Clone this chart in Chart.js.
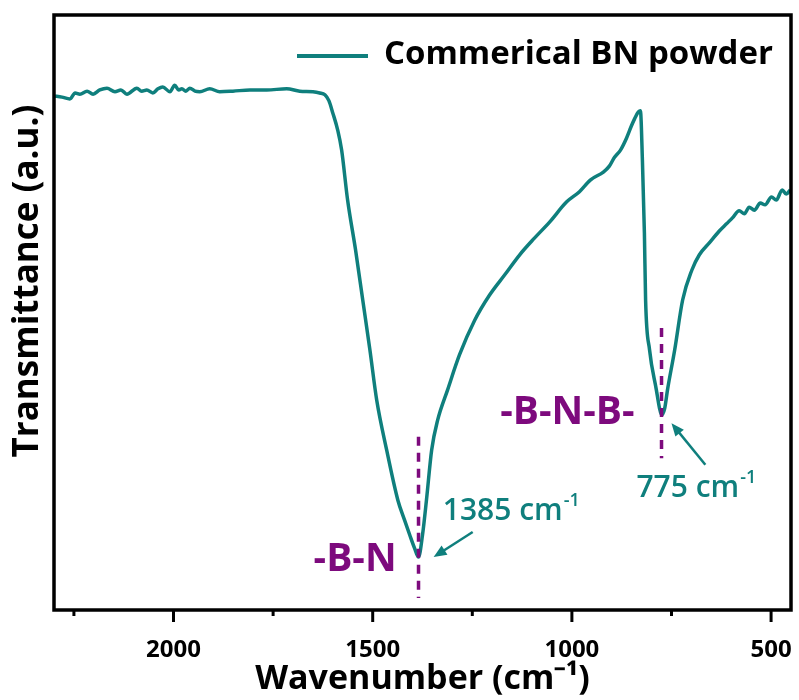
<!DOCTYPE html>
<html>
<head>
<meta charset="utf-8">
<script src="https://cdn.jsdelivr.net/npm/chart.js@4.4.1/dist/chart.umd.min.js"></script>
<style>
  body { margin: 0; background: #fff; }
  #wrap { width: 799px; height: 700px; }
</style>
</head>
<body>
<div id="wrap"><canvas id="chart" width="799" height="700"></canvas></div>
<script>
// FTIR spectrum (wavenumber in cm-1, transmittance in a.u.)
const wavenumbers = [
  2300, 2280, 2260, 2247, 2235, 2217, 2202, 2185, 2167, 2147,
  2132, 2117, 2092, 2080, 2067, 2052, 2039, 2027, 2009, 1997,
  1987, 1979, 1969, 1959, 1946, 1934, 1909, 1884, 1851, 1808,
  1766, 1716, 1683, 1650, 1633, 1620, 1610, 1600, 1588, 1578,
  1563, 1543, 1525, 1507, 1490, 1465, 1437, 1420, 1407, 1395,
  1385, 1375, 1365, 1352, 1337, 1312, 1282, 1244, 1207, 1169,
  1131, 1094, 1056, 1013, 981, 953, 921, 906, 893, 878,
  863, 851, 843, 833, 828, 823, 818, 815, 805, 788,
  780, 775, 767, 760, 742, 722, 699, 680, 655, 630,
  612, 597, 580, 567, 555, 542, 527, 515, 499, 487,
  472, 462, 452
];
const transmittance = [
  86.4, 86.2, 85.9, 86.9, 86.7, 87.2, 86.7, 87.4, 87.7, 87.1,
  87.4, 86.7, 87.7, 87.2, 87.4, 86.9, 87.6, 87.9, 87.1, 88.2,
  87.4, 87.6, 87.2, 87.7, 87.2, 87.1, 87.6, 87.1, 87.2, 87.4,
  87.4, 87.6, 87.2, 87.1, 86.9, 86.6, 85.6, 83.5, 80.7, 77.3,
  68.9, 60.5, 52.1, 43.7, 35.3, 26.9, 18.5, 15.1, 12.6, 10.4,
  8.9, 12.6, 18.5, 26.9, 31.9, 37.0, 42.9, 48.7, 52.9, 56.3,
  59.7, 62.5, 65.2, 68.6, 70.3, 72.3, 73.6, 74.6, 76.1, 77.3,
  79.3, 81.3, 82.5, 83.7, 83.9, 75.6, 63.4, 52.1, 43.7, 37.0,
  33.9, 32.8, 33.9, 37.0, 43.7, 52.1, 57.1, 59.7, 61.7, 63.7,
  64.9, 65.9, 67.1, 66.6, 67.7, 67.2, 68.4, 68.1, 69.4, 68.9,
  70.6, 69.9, 70.6
];
const xMajorTicks = [2000, 1500, 1000, 500];
const xMinorTicks = [2250, 1750, 1250, 750];

const teal = '#0f7f7d';
const purple = '#7d0a7d';

// text & marks placed in data coordinates
const annotations = {
  dashes: [
    { x: 1385, y1: 29.1, y2: 2.0 },
    { x: 775, y1: 47.4, y2: 25.5 }
  ],
  groups: [
    { text: '-B-N', x: 1440, y: 8.4 },
    { text: '-B-N-B-', x: 843, y: 33.1 }
  ],
  peaks: [
    { text: '1385 cm', x: 1324, y: 15.1, arrow: [1249, 13.1, 1347, 8.9] },
    { text: '775 cm', x: 838, y: 19.0, arrow: [665, 24.4, 750, 31.4] }
  ]
};

function drawArrow(ctx, x1, y1, x2, y2) {
  const ang = Math.atan2(y2 - y1, x2 - x1);
  const head = 14;
  ctx.beginPath();
  ctx.moveTo(x1, y1);
  ctx.lineTo(x2 - Math.cos(ang) * head * 0.8, y2 - Math.sin(ang) * head * 0.8);
  ctx.stroke();
  ctx.beginPath();
  ctx.moveTo(x2, y2);
  ctx.lineTo(x2 - head * Math.cos(ang - 0.4), y2 - head * Math.sin(ang - 0.4));
  ctx.lineTo(x2 - head * Math.cos(ang + 0.4), y2 - head * Math.sin(ang + 0.4));
  ctx.closePath();
  ctx.fill();
}

const decorPlugin = {
  id: 'decor',
  beforeDraw(chart) {
    const ctx = chart.ctx;
    ctx.save();
    ctx.fillStyle = '#fff';
    ctx.fillRect(0, 0, chart.width, chart.height);
    ctx.restore();
  },
  afterDraw(chart) {
    const ctx = chart.ctx;
    const area = chart.chartArea;
    const xs = chart.scales.x;
    const ys = chart.scales.y;
    ctx.save();

    // frame
    ctx.strokeStyle = '#000';
    ctx.lineWidth = 3.5;
    ctx.strokeRect(area.left, area.top, area.right - area.left, area.bottom - area.top);

    // tick marks
    ctx.lineWidth = 3;
    xMajorTicks.forEach(v => {
      const px = xs.getPixelForValue(v);
      ctx.beginPath(); ctx.moveTo(px, area.bottom); ctx.lineTo(px, area.bottom + 12); ctx.stroke();
    });
    xMinorTicks.forEach(v => {
      const px = xs.getPixelForValue(v);
      ctx.beginPath(); ctx.moveTo(px, area.bottom); ctx.lineTo(px, area.bottom + 6); ctx.stroke();
    });

    // legend (inside plot, top right)
    const ds = chart.data.datasets[0];
    ctx.strokeStyle = ds.borderColor;
    ctx.lineWidth = 4;
    ctx.beginPath(); ctx.moveTo(297, 56); ctx.lineTo(368, 56); ctx.stroke();
    ctx.fillStyle = '#000';
    ctx.font = 'bold 33px "Open Sans"';
    ctx.textAlign = 'left';
    ctx.textBaseline = 'middle';
    ctx.fillText(ds.label, 384, 55);

    // y title
    ctx.font = 'bold 35px "Open Sans"';
    ctx.textAlign = 'center';
    ctx.translate(28, 281);
    ctx.rotate(-Math.PI / 2);
    ctx.fillText('Transmittance (a.u.)', 0, 0);
    ctx.setTransform(1, 0, 0, 1, 0, 0);

    // dashed peak markers
    ctx.strokeStyle = purple;
    ctx.lineWidth = 3.5;
    ctx.setLineDash([9, 7]);
    annotations.dashes.forEach(d => {
      const px = xs.getPixelForValue(d.x);
      ctx.beginPath();
      ctx.moveTo(px, ys.getPixelForValue(d.y1));
      ctx.lineTo(px, ys.getPixelForValue(d.y2));
      ctx.stroke();
    });
    ctx.setLineDash([]);

    // group labels
    ctx.fillStyle = purple;
    ctx.font = 'bold 39px "Open Sans"';
    ctx.textAlign = 'right';
    ctx.textBaseline = 'middle';
    annotations.groups.forEach(g => {
      ctx.fillText(g.text, xs.getPixelForValue(g.x), ys.getPixelForValue(g.y));
    });

    // peak labels with superscript and arrows
    ctx.fillStyle = teal;
    ctx.strokeStyle = teal;
    ctx.lineWidth = 2.5;
    ctx.textAlign = 'left';
    ctx.textBaseline = 'alphabetic';
    annotations.peaks.forEach(p => {
      const px = xs.getPixelForValue(p.x);
      const py = ys.getPixelForValue(p.y);
      ctx.font = '600 30px "Open Sans"';
      ctx.fillText(p.text, px, py);
      const w = ctx.measureText(p.text).width;
      ctx.font = '600 18px "Open Sans"';
      ctx.fillText('-1', px + w + 1, py - 14);
      const a = p.arrow;
      drawArrow(ctx, xs.getPixelForValue(a[0]), ys.getPixelForValue(a[1]),
        xs.getPixelForValue(a[2]), ys.getPixelForValue(a[3]));
    });

    ctx.restore();
  }
};

const ctx = document.getElementById('chart').getContext('2d');
new Chart(ctx, {
  type: 'line',
  data: {
    datasets: [{
      label: 'Commerical BN powder',
      data: wavenumbers.map((w, i) => ({ x: w, y: transmittance[i] })),
      borderColor: teal,
      backgroundColor: teal,
      borderWidth: 3.5,
      pointRadius: 0,
      cubicInterpolationMode: 'monotone'
    }]
  },
  options: {
    responsive: false,
    animation: false,
    layout: { padding: { left: 54, top: 15, right: 8, bottom: 0 } },
    plugins: {
      legend: { display: false },
      tooltip: { enabled: false }
    },
    scales: {
      x: {
        type: 'linear',
        reverse: true,
        min: 450,
        max: 2300,
        afterFit: (s) => {
          s.height = 90;
          // let the "500" label hang past the frame, as in the original
          s.paddingLeft = 0;
          s.paddingRight = 0;
        },
        grid: { display: false },
        border: { display: false },
        ticks: {
          stepSize: 250,
          includeBounds: false,
          autoSkip: false,
          maxRotation: 0,
          padding: 18,
          color: '#000',
          font: { family: 'Open Sans', size: 24, weight: 'bold' },
          callback: (v) => (v % 500 === 0 ? v : null)
        },
        title: {
          display: true,
          text: 'Wavenumber (cm⁻¹)',
          color: '#000',
          padding: { top: 0, bottom: 0 },
          font: { family: 'Open Sans', size: 34, weight: 'bold' }
        }
      },
      y: {
        display: false,
        min: 0,
        max: 100
      }
    }
  },
  plugins: [decorPlugin]
});
</script>
</body>
</html>
